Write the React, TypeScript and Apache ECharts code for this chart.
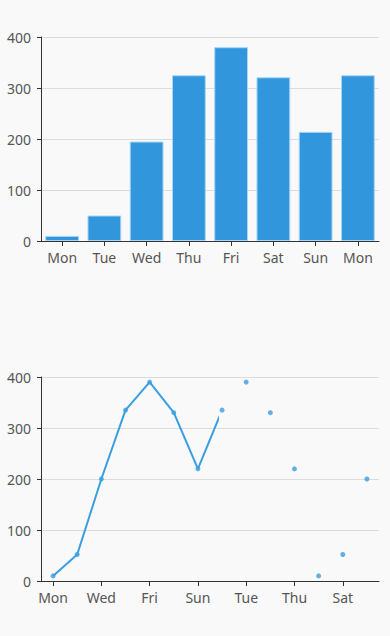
import React, { useEffect, useRef } from "react";
import * as echarts from "echarts";

const barCategories = ["Mon", "Tue", "Wed", "Thu", "Fri", "Sat", "Sun", "Mon"];
const barValues = [10, 50, 195, 325, 380, 321, 214, 325];

const lineCategories = ["Mon", "Tue", "Wed", "Thu", "Fri", "Sat", "Sun", "Mon", "Tue", "Wed", "Thu", "Fri", "Sat", "Sun"];
const lineValues = [10, 52, 200, 335, 390, 330, 220, 335, 390, 330, 220, 10, 52, 200];
// the line is drawn only up to this position along the x axis (index units)
const lineDrawnUntil = 6.8;

const yTicks = [0, 100, 200, 300, 400];

const FONT = "'Noto Sans', 'Open Sans', sans-serif";
const LABEL_COLOR = "#555";
const BLUE = "#3296dc";
const LINE_BLUE = "#3a9ee2";

const W = 390;
const H = 636;
const GRID_LEFT = 41;
const GRID_RIGHT = 11;

export default function App() {
  const ref = useRef<HTMLDivElement>(null);
  useEffect(() => {
    document.body.style.margin = "0";
    const chart = echarts.init(ref.current!, undefined, { renderer: "svg" });
    const yAxisBase = (gridIndex: number, show = true) => ({
      type: "value" as const,
      gridIndex,
      show,
      min: yTicks[0],
      max: yTicks[yTicks.length - 1],
      interval: 100,
      axisLine: { show: true, lineStyle: { color: "#333", width: 1 } },
      axisTick: { show: true, length: 4, lineStyle: { color: "#333" } },
      axisLabel: { color: LABEL_COLOR, fontSize: 14, fontFamily: FONT, margin: 10 },
      splitLine: { show: show, lineStyle: { color: "#dcdcdc" } },
    });
    const xAxisBase = (gridIndex: number, data: string[]) => ({
      type: "category" as const,
      gridIndex,
      data,
      boundaryGap: true,
      axisLine: { show: true, lineStyle: { color: "#333" } },
      axisTick: { show: true, alignWithLabel: true, length: 5, lineStyle: { color: "#333" } },
      axisLabel: { color: LABEL_COLOR, fontSize: 14, fontFamily: FONT, margin: 9 },
    });
    const band = (W - GRID_LEFT - GRID_RIGHT) / lineCategories.length;
    const clipWidth = (lineDrawnUntil + 0.5) * band;
    chart.setOption({
      animation: false,
      backgroundColor: "#f9f9f9",
      grid: [
        { left: GRID_LEFT, right: GRID_RIGHT, top: 37, bottom: 395 },
        { left: GRID_LEFT, right: GRID_RIGHT, top: 377, bottom: 55 },
        { left: GRID_LEFT, width: clipWidth, top: 377, bottom: 55 },
      ],
      xAxis: [
        xAxisBase(0, barCategories),
        xAxisBase(1, lineCategories),
        { type: "value", gridIndex: 2, show: false, min: -0.5, max: lineDrawnUntil },
      ],
      yAxis: [yAxisBase(0), yAxisBase(1), yAxisBase(2, false)],
      series: [
        {
          type: "bar",
          xAxisIndex: 0,
          yAxisIndex: 0,
          data: barValues,
          barCategoryGap: "20%",
          itemStyle: { color: BLUE, borderColor: "#a9d6f5", borderWidth: 1 },
        },
        {
          type: "line",
          xAxisIndex: 2,
          yAxisIndex: 2,
          data: lineValues.map((v, i) => [i, v]),
          showSymbol: false,
          clip: true,
          lineStyle: { width: 2, color: LINE_BLUE },
        },
        {
          type: "scatter",
          xAxisIndex: 1,
          yAxisIndex: 1,
          data: lineValues,
          symbolSize: 5,
          itemStyle: { color: LINE_BLUE },
        },
      ],
    });
    return () => chart.dispose();
  }, []);
  return <div ref={ref} style={{ width: W, height: H }} />;
}
